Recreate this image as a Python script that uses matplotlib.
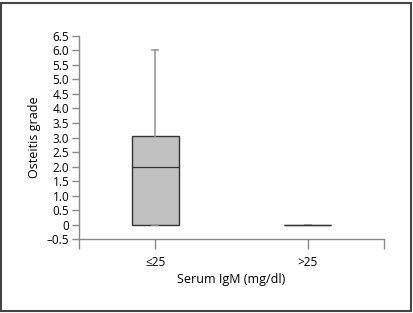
import matplotlib
matplotlib.use('Agg')
import matplotlib.pyplot as plt
from matplotlib.patches import Rectangle

groups = ['≤25', '>25']
q1 = [0.0, 0.0]
med = [2.0, 0.0]
q3 = [3.05, 0.0]
wlo = [0.0, 0.0]
whi = [6.0, 0.0]
yticks = [-0.5, 0, 0.5, 1.0, 1.5, 2.0, 2.5, 3.0, 3.5, 4.0, 4.5, 5.0, 5.5, 6.0, 6.5]

plt.rcParams['font.family'] = ['Open Sans', 'DejaVu Sans']

fig = plt.figure(figsize=(4.14, 3.13), dpi=100)
ax = fig.add_axes([0.1908, 0.2364, 0.7367, 0.6486])

stats = []
for i in range(len(groups)):
    stats.append({'q1': q1[i], 'med': med[i], 'q3': q3[i],
                  'whislo': wlo[i], 'whishi': whi[i], 'fliers': []})

ax.bxp(stats, positions=[1, 2], widths=0.31, capwidths=0.04, patch_artist=True,
       showfliers=False,
       boxprops=dict(facecolor='#c0c0c0', edgecolor='#333333', linewidth=1.0),
       medianprops=dict(color='#333333', linewidth=0.9),
       whiskerprops=dict(color='#999999', linewidth=1.2),
       capprops=dict(color='#999999', linewidth=1.2))

ax.set_xlim(0.5, 2.5)
ax.set_ylim(-0.5, 6.5)
ax.set_yticks(yticks)
ax.set_yticklabels(['\u20130.5' if v < 0 else ('0' if v == 0 else f'{v:.1f}') for v in yticks])
ax.set_xticks([0.5, 1, 2, 2.5])
ax.set_xticklabels(['', groups[0], groups[1], ''])

for s in ['top', 'right']:
    ax.spines[s].set_visible(False)
for s in ['left', 'bottom']:
    ax.spines[s].set_color('#888888')
    ax.spines[s].set_linewidth(1.0)
ax.tick_params(axis='y', length=5, width=1.0, color='#888888', labelsize=8.5, pad=2)
ax.tick_params(axis='x', length=7, width=1.0, color='#888888', labelsize=8.5, pad=5)

ax.set_ylabel('Osteitis grade', fontsize=9, labelpad=4)
ax.set_xlabel('Serum IgM (mg/dl)', fontsize=9, labelpad=3)

fig.patches.append(Rectangle((1.5 / 414, 2.5 / 313), 410 / 414, 308 / 313,
                             transform=fig.transFigure, fill=False,
                             edgecolor='#444444', linewidth=1.5))

fig.savefig('out.png', dpi=100)
